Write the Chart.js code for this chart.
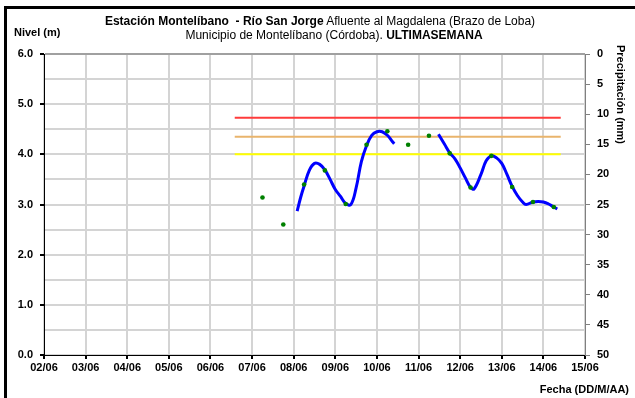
<!DOCTYPE html>
<html>
<head>
<meta charset="utf-8">
<script src="https://cdn.jsdelivr.net/npm/chart.js@4/dist/chart.umd.min.js"></script>
<style>
  body { margin: 0; background: #fff; }
  #wrap { position: relative; width: 635px; height: 398px; overflow: hidden; font-family: "Liberation Sans", Arial, sans-serif; color: #000; }
  #frame { position: absolute; left: 4px; top: 6px; width: 700px; height: 500px; border-left: 3px solid #000; border-top: 3px solid #000; }
  canvas { position: absolute; left: 0; top: 0; }
  .txt { position: absolute; white-space: nowrap; font-size: 11px; line-height: 13px; }
  .t { font-size: 12px; line-height: 14px; }
  .b { font-weight: bold; }
</style>
</head>
<body>
<div id="wrap">
  <div id="frame"></div>
  <canvas id="nivelChart" width="635" height="398"></canvas>
  <div class="txt t" style="left:0;width:640px;top:14px;text-align:center;"><span class="b">Estación Montelíbano&nbsp; - Río San Jorge</span> Afluente al Magdalena (Brazo de Loba)</div>
  <div class="txt t" style="left:0;width:668px;top:28px;text-align:center;">Municipio de Montelíbano (Córdoba). <span class="b">ULTIMASEMANA</span></div>
  <div class="txt b" style="left:14px;top:26px;">Nivel (m)</div>
  <div class="txt b" style="left:614px;top:45px;writing-mode:vertical-rl;">Precipitación (mm)</div>
  <div class="txt b" style="right:6px;top:383px;">Fecha (DD/M/AA)</div>
</div>
<script>
// eje x: un dia por division, desde 02/06
const dayLabels = ["02/06", "03/06", "04/06", "05/06", "06/06", "07/06", "08/06",
    "09/06", "10/06", "11/06", "12/06", "13/06", "14/06", "15/06"];

// nivel continuo (m), null = sin dato
const levelTimes = [
    "08/06 02:00", "08/06 04:00", "08/06 06:00", "08/06 09:00", "08/06 12:00", "08/06 15:00",
    "08/06 18:00", "08/06 21:00", "09/06 00:00", "09/06 03:00", "09/06 06:00", "09/06 09:00",
    "09/06 12:00", "09/06 15:00", "09/06 18:00", "09/06 21:00", "10/06 00:00", "10/06 03:00",
    "10/06 06:00", "10/06 09:00", "10/06 10:00",
    "11/06 00:00",
    "11/06 11:30", "11/06 15:00", "11/06 18:00", "11/06 21:00", "12/06 00:00", "12/06 03:00",
    "12/06 06:00", "12/06 08:00", "12/06 12:00", "12/06 15:00", "12/06 18:00", "12/06 21:00",
    "13/06 00:00", "13/06 03:00", "13/06 06:00", "13/06 09:00", "13/06 12:00", "13/06 14:00",
    "13/06 18:00", "13/06 21:00", "14/06 00:00", "14/06 03:00", "14/06 06:00", "14/06 08:00"
];
const levelValues = [
    2.87, 3.14, 3.37, 3.68, 3.82, 3.80,
    3.69, 3.50, 3.30, 3.16, 3.02, 3.00,
    3.33, 3.85, 4.17, 4.38, 4.45, 4.45,
    4.38, 4.25, 4.21,
    null,
    4.40, 4.20, 4.03, 3.91, 3.73, 3.53,
    3.34, 3.31, 3.60, 3.87, 3.97, 3.93,
    3.82, 3.60, 3.36, 3.18, 3.05, 3.00,
    3.05, 3.06, 3.05, 3.01, 2.95, 2.91
];

// lecturas de mira (puntos verdes)
const readingTimes = [
    "07/06 06:00", "07/06 18:00", "08/06 06:00", "08/06 18:00", "09/06 06:00",
    "09/06 18:00", "10/06 06:00", "10/06 18:00", "11/06 06:00", "11/06 18:00",
    "12/06 06:00", "12/06 18:00", "13/06 06:00", "13/06 18:00", "14/06 06:00"
];
const readingValues = [
    3.14, 2.60, 3.40, 3.68, 3.01,
    4.19, 4.46, 4.19, 4.37, 4.02,
    3.34, 3.97, 3.35, 3.05, 2.95
];

// niveles de alerta (m)
const alertLevels = [4.73, 4.35, 4.00];
const alertFrom = "06/06 14:00";
const alertTo = "14/06 10:00";
const alertColors = ["#ff3b3b", "#e9b46c", "#ffff00"];

// dias desde 02/06 00:00
function toDays(s) {
    const [date, time] = s.split(" ");
    const day = parseInt(date.split("/")[0], 10);
    const [h, m] = time.split(":").map(Number);
    return (day - 2) + (h + m / 60) / 24;
}

const alertSets = alertLevels.map((lvl, i) => ({
    data: [{ x: toDays(alertFrom), y: lvl }, { x: toDays(alertTo), y: lvl }],
    borderColor: alertColors[i],
    borderWidth: 2,
    pointRadius: 0,
    order: 3,
    yAxisID: "y",
}));

const ctx = document.getElementById("nivelChart").getContext("2d");
const nivelChart = new Chart(ctx, {
    type: "line",
    data: {
        datasets: [
            {
                data: readingTimes.map((t, i) => ({ x: toDays(t), y: readingValues[i] })),
                showLine: false,
                pointRadius: 2.3,
                pointBorderWidth: 0,
                pointBackgroundColor: "#008000",
                order: 0,
                yAxisID: "y",
            },
            {
                data: levelTimes.map((t, i) => ({ x: toDays(t), y: levelValues[i] })),
                borderColor: "#0000ff",
                borderWidth: 3,
                pointRadius: 0,
                tension: 0.4,
                spanGaps: false,
                order: 1,
                yAxisID: "y",
            },
            ...alertSets,
        ],
    },
    options: {
        responsive: false,
        animation: false,
        events: [],
        layout: {
            padding: { top: 54, left: 0, right: 0, bottom: 0 },
        },
        plugins: {
            legend: { display: false },
            tooltip: { enabled: false },
        },
        scales: {
            x: {
                type: "linear",
                min: 0,
                max: 13,
                afterFit: (scale) => { scale.height = 43; },
                ticks: {
                    stepSize: 1,
                    autoSkip: false,
                    maxRotation: 0,
                    padding: 2,
                    color: "#000",
                    font: { family: "Liberation Sans", size: 11, weight: "bold" },
                    callback: (value) => dayLabels[value],
                },
                grid: {
                    color: "#d4d4d4",
                    lineWidth: 2,
                    tickColor: "#000",
                    tickLength: 4,
                },
                border: { color: "#000", width: 1 },
            },
            y: {
                position: "left",
                min: 0,
                max: 6,
                afterFit: (scale) => { scale.width = 44; },
                ticks: {
                    stepSize: 0.5,
                    padding: 7,
                    color: "#000",
                    font: { family: "Liberation Sans", size: 11, weight: "bold" },
                    callback: (value) => (value % 1 === 0 ? value.toFixed(1) : ""),
                },
                grid: {
                    color: (c) => (c.tick && c.tick.value === 6 ? "#a0a0a0" : "#d4d4d4"),
                    lineWidth: 2,
                    tickColor: (c) => (c.tick && c.tick.value % 1 === 0 ? "#000" : "rgba(0,0,0,0)"),
                    tickLength: 4,
                },
                border: { color: "#000", width: 1 },
            },
            y2: {
                position: "right",
                min: 0,
                max: 50,
                reverse: true,
                afterFit: (scale) => { scale.width = 50; },
                ticks: {
                    stepSize: 5,
                    padding: 7,
                    color: "#000",
                    font: { family: "Liberation Sans", size: 11, weight: "bold" },
                },
                grid: {
                    drawOnChartArea: false,
                    tickColor: "#808080",
                    tickLength: 5,
                },
                border: { color: "#808080", width: 1 },
            },
        },
    },
});
</script>
</body>
</html>
